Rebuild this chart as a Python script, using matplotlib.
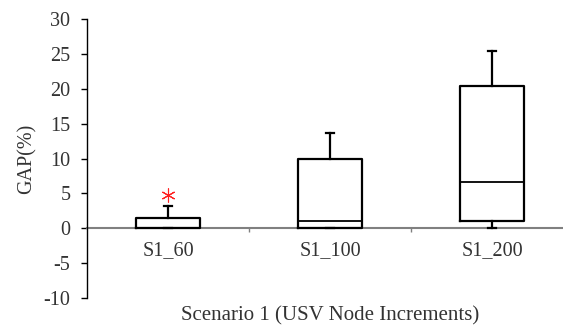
import matplotlib
matplotlib.use("Agg")
import matplotlib.pyplot as plt

categories = ["S1_60", "S1_100", "S1_200"]
whislo = [0.0, 0.0, 0.0]
q1 = [0.0, 0.0, 1.1]
med = [0.0, 1.1, 6.7]
q3 = [1.4, 10.0, 20.4]
whishi = [3.2, 13.7, 25.4]
fliers = [[4.7], [], []]
yticks = [-10, -5, 0, 5, 10, 15, 20, 25, 30]

plt.rcParams['font.family'] = ['Liberation Serif', 'DejaVu Serif']
plt.rcParams['axes.unicode_minus'] = False

fig = plt.figure(figsize=(5.63, 3.29), dpi=100)
ax = fig.add_axes([87/563, 1-298/329, 486/563, 279/329])

stats = []
for i, c in enumerate(categories):
    stats.append(dict(label=c, whislo=whislo[i], q1=q1[i], med=med[i],
                      q3=q3[i], whishi=whishi[i], fliers=fliers[i]))

pos = list(range(len(categories)))
ax.bxp(stats, positions=pos, widths=0.4, capwidths=0.055, zorder=3,
       boxprops=dict(color='black', linewidth=1.6),
       whiskerprops=dict(color='black', linewidth=1.6),
       capprops=dict(color='black', linewidth=1.6),
       medianprops=dict(color='black', linewidth=1.3),
       flierprops=dict(marker=(6, 2, 0), markersize=10, markeredgecolor='#ff2020',
                       markerfacecolor='none', markeredgewidth=0.8, linestyle='none'))

ax.set_xlim(-0.5, 2.5)
ax.set_ylim(-10, 30)
ax.set_yticks(yticks)
ax.set_xticks(pos)
ax.set_xticklabels(categories)
ax.set_xticks([0.5, 1.5], minor=True)

ax.spines['top'].set_visible(False)
ax.spines['right'].set_visible(False)
ax.spines['bottom'].set_position(('data', 0))
ax.spines['bottom'].set_color('#808080')
ax.spines['bottom'].set_linewidth(1.5)
ax.spines['bottom'].set_zorder(2)
ax.spines['left'].set_linewidth(1.0)

ax.tick_params(axis='y', direction='out', length=4, width=1.0, labelsize=14.5,
               colors='black', labelcolor='#333333', pad=8)
ax.tick_params(axis='x', which='major', length=0, labelsize=14.5,
               labelcolor='#333333', pad=9)
ax.tick_params(axis='x', which='minor', direction='out', length=3,
               width=1.0, color='#808080')

ax.set_ylabel("GAP(%)", fontsize=14.5, color='#333333')
ax.yaxis.set_label_coords(-0.104, 0.5)
ax.set_xlabel("Scenario 1 (USV Node Increments)", fontsize=15, color='#333333')
ax.xaxis.set_label_coords(0.5, -0.03)

fig.savefig("out.png", dpi=100)
